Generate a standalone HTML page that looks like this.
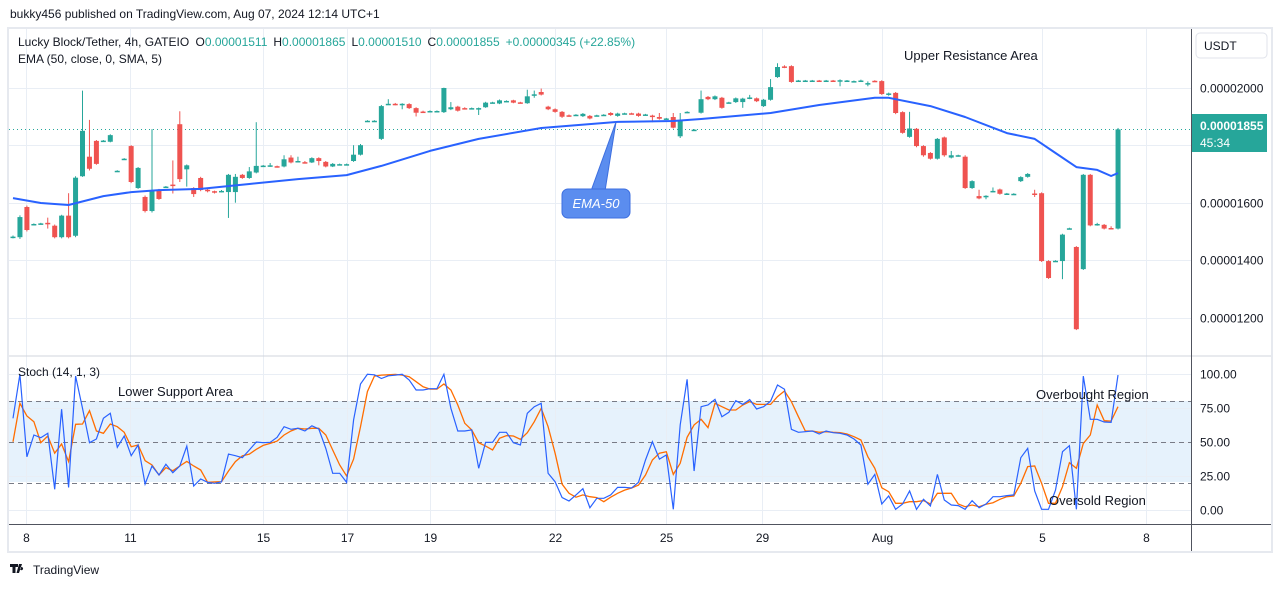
<!DOCTYPE html>
<html><head><meta charset="utf-8">
<style>
html,body{margin:0;padding:0;background:#fff;}
body{width:1281px;height:587px;overflow:hidden;font-family:"Liberation Sans",sans-serif;}
svg text{font-family:"Liberation Sans",sans-serif;}
</style></head>
<body>
<svg id="chart" width="1281" height="587" viewBox="0 0 1281 587" xmlns="http://www.w3.org/2000/svg">
  <text x="10" y="18" font-size="12" fill="#131722">bukky456 published on TradingView.com, Aug 07, 2024 12:14 UTC+1</text>
  <rect x="8" y="28" width="1264" height="524" fill="#fff" stroke="#e6e9ef" stroke-width="2"/>
  <rect x="9" y="401" width="1182" height="81" fill="#e3f1fc" opacity="0.9"/>
  <g id="grid"></g>
  <g id="candles"></g>
  <g id="ema"></g>
  <g id="stoch"></g>
  <line x1="9" y1="356" x2="1271" y2="356" stroke="#d1d4dc" stroke-width="1"/>
  <line x1="1191.5" y1="29" x2="1191.5" y2="551" stroke="#50535e" stroke-width="1"/>
  <line x1="9" y1="524.5" x2="1271" y2="524.5" stroke="#50535e" stroke-width="1"/>
  <g id="axes"></g>
  <text x="18" y="46" font-size="12" fill="#131722">Lucky Block/Tether, 4h, GATEIO <tspan dx="3">O</tspan><tspan fill="#26a69a">0.00001511</tspan><tspan dx="6">H</tspan><tspan fill="#26a69a">0.00001865</tspan><tspan dx="6">L</tspan><tspan fill="#26a69a">0.00001510</tspan><tspan dx="6">C</tspan><tspan fill="#26a69a">0.00001855</tspan><tspan dx="6" fill="#26a69a">+0.00000345 (+22.85%)</tspan></text>
  <text x="18" y="63" font-size="12" fill="#131722">EMA (50, close, 0, SMA, 5)</text>
  <text x="18" y="376" font-size="12" fill="#131722">Stoch (14, 1, 3)</text>
  <text x="904" y="60" font-size="13" fill="#131722">Upper Resistance Area</text>
  <text x="118" y="396" font-size="13" fill="#131722">Lower Support Area</text>
  <text x="1036" y="399" font-size="13" fill="#131722">Overbought Region</text>
  <text x="1049" y="505" font-size="13" fill="#131722">Oversold Region</text>
  <g>
    <polygon points="591,191 605,191 616,122" fill="#5b8def" stroke="#3d6fe0" stroke-width="1"/>
    <rect x="562" y="189" width="68" height="29" rx="6" fill="#5b8def" stroke="#3d6fe0" stroke-width="1"/>
    <text x="596" y="208" font-size="13" font-style="italic" fill="#fff" text-anchor="middle">EMA-50</text>
  </g>
  <rect x="1196" y="33" width="71" height="25" rx="4" fill="#fff" stroke="#e0e3eb"/>
  <text x="1204" y="50" font-size="12" fill="#131722">USDT</text>
  <g>
    <rect x="1192" y="114" width="75" height="38" fill="#26a69a"/>
    <text x="1200" y="130" font-size="12" font-weight="bold" fill="#fff">0.00001855</text>
    <text x="1200" y="147" font-size="12" fill="#fff">45:34</text>
  </g>
  <g>
    <path d="M10 564h8v3h-2.5v6h-3v-6H10zM19 564h3l-3 9h-2.5z M21.5 567a1.6 1.6 0 1 0 0.01 0z" fill="#131722"/>
    <text x="33" y="574" font-size="12" fill="#131722">TradingView</text>
  </g>
</svg>
<script>
const opens=[1480,1480,1585,1524,1526,1530,1520,1480,1555,1485,1692,1760,1815,1814,1812,1709,1751,1797,1651,1620,1571,1644,1654,1663,1873,1716,1651,1686,1645,1640,1639,1637,1637,1697,1686,1705,1727,1728,1727,1726,1757,1742,1741,1740,1755,1742,1726,1732,1732,1745,1767,1883,1883,1822,1942,1944,1942,1943,1929,1917,1917,1917,1915,1925,1934,1929,1927,1927,1932,1947,1945,1952,1956,1949,1946,1975,1985,1934,1925,1916,1904,1904,1901,1902,1902,1904,1912,1902,1909,1911,1910,1905,1903,1898,1891,1898,1831,1914,1852,1913,1968,1960,1965,1947,1950,1950,1964,1963,1936,1958,2037,2074,2075,2023,2023,2023,2025,2023,2025,2023,2023,2021,2022,2014,2024,2023,1975,1982,1915,1829,1857,1797,1773,1753,1827,1757,1763,1760,1651,1623,1622,1639,1646,1630,1629,1675,1690,1632,1633,1397,1396,1397,1509,1446,1369,1697,1524,1523,1512,1510];
const closes=[1482,1550,1505,1526,1528,1527,1480,1555,1480,1687,1850,1718,1735,1816,1835,1711,1753,1672,1721,1571,1644,1613,1656,1661,1682,1730,1630,1644,1643,1635,1641,1697,1690,1686,1709,1728,1729,1730,1725,1751,1740,1745,1739,1755,1745,1726,1735,1734,1734,1767,1800,1885,1885,1936,1944,1942,1944,1929,1913,1915,1919,1919,1999,1932,1920,1927,1929,1929,1948,1949,1956,1954,1948,1947,1970,1977,1976,1925,1916,1899,1902,1906,1909,1893,1904,1906,1905,1910,1911,1909,1902,1907,1901,1892,1893,1861,1888,1916,1854,1960,1960,1970,1930,1949,1963,1962,1966,1953,1958,2002,2072,2072,2020,2025,2025,2025,2023,2025,2023,2026,2025,2023,2025,2016,2022,1978,1980,1912,1843,1858,1797,1765,1753,1822,1765,1765,1765,1651,1675,1615,1624,1641,1631,1632,1631,1689,1700,1630,1397,1338,1398,1489,1511,1160,1697,1521,1526,1510,1510,1855];
const highs=[1486,1556,1590,1528,1530,1548,1524,1558,1633,1692,1990,1888,1818,1818,1838,1713,1755,1800,1724,1625,1856,1648,1658,1747,1918,1733,1654,1690,1650,1642,1644,1700,1700,1700,1724,1880,1731,1738,1729,1765,1765,1760,1745,1758,1758,1745,1738,1736,1736,1800,1804,1887,1887,1940,1960,1947,1946,1946,1932,1920,1921,1921,2000,1950,1937,1932,1931,1931,1951,1951,1959,1956,1958,1951,1993,1990,1997,1937,1928,1919,1907,1908,1912,1905,1906,1908,1915,1913,1913,1913,1913,1909,1906,1912,1895,1912,1912,1918,1856,1990,1971,1973,1968,1951,1966,1965,1975,1966,1961,2030,2085,2078,2078,2027,2027,2027,2027,2027,2027,2029,2027,2025,2028,2022,2026,2026,1983,1985,1918,1916,1860,1800,1776,1825,1830,1780,1767,1765,1678,1645,1626,1653,1649,1634,1633,1692,1703,1645,1636,1400,1400,1492,1513,1449,1700,1700,1530,1526,1518,1860];
const lows=[1476,1474,1500,1522,1524,1510,1476,1476,1476,1480,1690,1712,1732,1812,1810,1707,1749,1668,1648,1566,1566,1610,1652,1632,1672,1656,1620,1640,1636,1632,1636,1547,1600,1683,1683,1702,1725,1725,1722,1723,1737,1740,1736,1738,1730,1723,1724,1730,1730,1742,1764,1881,1881,1818,1940,1939,1925,1926,1900,1912,1915,1915,1912,1922,1917,1924,1925,1905,1930,1945,1943,1950,1946,1945,1944,1965,1973,1922,1913,1895,1899,1902,1898,1890,1900,1902,1902,1899,1907,1907,1899,1903,1880,1889,1889,1858,1825,1912,1850,1910,1957,1957,1927,1945,1947,1930,1960,1950,1933,1955,2034,2068,2017,2021,2021,2021,2021,2021,2021,2005,2021,2019,2020,2005,2020,1975,1972,1908,1840,1826,1793,1760,1750,1750,1760,1754,1760,1648,1648,1612,1612,1636,1628,1628,1627,1672,1687,1620,1394,1335,1394,1334,1507,1157,1366,1518,1520,1507,1507,1507];
const emaIdx=[0,4,8,13,17,21,27,34,41,48,53,60,67,76,87,95,99,109,116,124,126,132,137,143,147,150,153,156,158,159];
const emaVal=[1616,1599,1592,1623,1637,1644,1648,1665,1682,1696,1728,1780,1822,1860,1881,1884,1891,1912,1940,1965,1965,1936,1898,1842,1822,1773,1724,1714,1693,1703];
const stochK=[67.5,100,39.1,55.2,53.2,56.4,15.1,74.2,16.5,98.7,74.9,49.5,52.2,67.5,71.2,46.1,54.4,39.9,47.8,19,32.3,25.6,33.5,27.3,32.3,47,17.5,22.7,20.2,19.5,20.5,41.1,39.9,38.4,44.1,50,49.5,49.8,53.5,61.3,59.4,60.1,58.1,62,59.6,45.3,26.9,26.9,20.2,66.3,92.8,100,99.6,96.9,98.9,99.4,
100,95.8,88.4,88.4,89.4,89.4,100,74.9,58.1,58.1,58.9,30.6,49.8,49.8,57.2,57.2,49.5,47.8,71.2,76.1,78.6,26.9,20.7,8.9,6.4,10.9,15.5,1.5,8.4,8.4,10.9,16.5,16.5,16,20.2,36.7,50.2,37.4,40.4,0.3,62.6,96.3,28.6,76.1,77.3,81.5,68.7,71.9,80.5,77.8,81.3,74.4,76.1,80.2,92.1,88.9,
59.4,57.2,57.6,58.1,55.9,58.1,56.9,56.4,55.2,52.2,47.8,18.8,26.1,4.2,10.1,0.3,4.2,13.8,0.3,7.7,2.7,26.1,7.2,3.5,3,0.3,6.7,1.5,4.2,9.6,9.6,10.4,10.9,38.4,45.3,13.8,0.3,0.3,14.5,42.8,47.3,0.3,98.7,66.8,66.8,64.8,64.5,99.4];
const stochD=[50.2,78.6,69.2,65,49.5,54.4,41.7,48.5,35.5,63.1,63.3,73.1,58.1,56.4,63.3,61.3,57.2,46.5,47.8,36.2,33,25.6,31,28.8,32.3,35.7,32.3,29.3,20.2,20.5,20.7,28.6,35.5,39.7,41.1,44.6,47.5,49,50.7,55.2,58.1,60.1,59.6,60.1,60.1,55.2,44.1,33,24.9,37.4,61.3,87.2,98.7,99.4,99.6,99.9,
99.4,98.2,94.5,90.8,89.1,89.1,92.8,88.4,77.3,63.8,58.9,49.5,47,44.1,52.7,54.7,54.4,52,56.9,65,74.9,61.3,41.7,18.8,12.1,9.2,10.9,9.6,8.9,5.9,9.2,12.1,14.5,16,18.2,25.6,36.7,41.7,42.8,26.1,34.3,53.5,62.6,66.8,60.6,78.6,76.1,73.6,73.6,77.3,79.8,77.8,77.8,77.8,83.5,87.7,
79.8,68.7,58.1,58.1,57.2,57.6,57.2,56.9,55.9,53.9,51.5,39.1,30.6,16.2,13.3,4.7,4.7,5.9,5.9,6.7,4.2,12.1,12.1,12.1,4.2,2.2,3.5,2.2,4,5.2,7.7,9.6,10.1,19.5,31.8,32.3,19.5,4.7,4.7,17,34.7,30.6,49,55.2,77.3,65.7,65.4,76.1];
const priceTicks=[2000,1800,1600,1400,1200];
const priceTickLabels=["0.00002000","","0.00001600","0.00001400","0.00001200"];
const stochTicks=[100,75,50,25,0];
const stochTickLabels=["100.00","75.00","50.00","25.00","0.00"];
const stochLevels=[80,50,20];
const dayTicks=[1.9,16.9,35.9,48,60,78,94,107.8,125,148,163];
const dayLabels=["8","11","15","17","19","22","25","29","Aug","5","8"];
const lastPrice=1855;

const NS="http://www.w3.org/2000/svg";
const xAt=i=>13+i*6.95;
const yP=v=>87.7+(2000-v)*0.2875;
const yS=v=>509.7-v*1.354;
function mk(tag,attrs,parent){const e=document.createElementNS(NS,tag);for(const k in attrs)e.setAttribute(k,attrs[k]);parent.appendChild(e);return e;}
const grid=document.getElementById('grid'),axes=document.getElementById('axes');
dayTicks.forEach((d,i)=>{
  const x=Math.round(xAt(d))+0.5;
  const gl=mk('line',{x1:x,y1:29,x2:x,y2:524,stroke:'#e9eef5','stroke-width':1},grid);
  
  
  const t=mk('text',{x:x,y:542,'font-size':12,fill:'#131722','text-anchor':'middle'},axes);
  t.textContent=dayLabels[i];
  
  
});
priceTicks.forEach((v,i)=>{
  const y=Math.round(yP(v))+0.5;
  const gl=mk('line',{x1:9,y1:y,x2:1191,y2:y,stroke:'#e9eef5','stroke-width':1},grid);
  
  
  if(priceTickLabels[i]){
    const t=mk('text',{x:1200,y:y+4,'font-size':12,fill:'#131722'},axes);
    t.textContent=priceTickLabels[i];
    
    
  }
});
stochTicks.forEach((v,i)=>{
  const y=Math.round(yS(v))+0.5;
  const gl=mk('line',{x1:9,y1:y,x2:1191,y2:y,stroke:'#e9eef5','stroke-width':1},grid);
  
  
  const t=mk('text',{x:1200,y:y+4,'font-size':12,fill:'#131722'},axes);
  t.textContent=stochTickLabels[i];
  
  
});
stochLevels.forEach(v=>{
  const y=Math.round(yS(v))+0.5;
  const l=mk('line',{x1:9,y1:y,x2:1191,y2:y,stroke:'#787b86','stroke-width':1,'stroke-dasharray':'5,4'},grid);
  
  
});
const lp=mk('line',{x1:9,y1:Math.round(yP(lastPrice))+0.5,x2:1191,y2:Math.round(yP(lastPrice))+0.5,stroke:'#26a69a','stroke-width':1,'stroke-dasharray':'1,3'},grid);



const cg=document.getElementById('candles');
opens.forEach((o,i)=>{
  const c=closes[i],up=c>=o,col=up?'#26a69a':'#ef5350',x=xAt(i);
  const g=mk('g',{},cg);
  
  
  mk('line',{x1:x,y1:yP(highs[i]),x2:x,y2:yP(lows[i]),stroke:col,'stroke-width':1},g);
  const t=Math.min(yP(o),yP(c)),h=Math.max(1.5,Math.abs(yP(o)-yP(c)));
  mk('rect',{x:x-2.5,y:t,width:5,height:h,fill:col},g);
});
const ep=emaIdx.map((d,i)=>xAt(d).toFixed(1)+','+yP(emaVal[i]).toFixed(1)).join(' ');
const emaLine=mk('polyline',{points:ep,fill:'none',stroke:'#2962ff','stroke-width':2,'stroke-linejoin':'round'},document.getElementById('ema'));


const sg=document.getElementById('stoch');
const dp=stochD.map((v,i)=>xAt(i).toFixed(1)+','+yS(v).toFixed(1)).join(' ');
const dl=mk('polyline',{points:dp,fill:'none',stroke:'#ff6d00','stroke-width':1.3},sg);


const kp=stochK.map((v,i)=>xAt(i).toFixed(1)+','+yS(v).toFixed(1)).join(' ');
const kl=mk('polyline',{points:kp,fill:'none',stroke:'#2962ff','stroke-width':1.2},sg);


</script>
</body></html>
